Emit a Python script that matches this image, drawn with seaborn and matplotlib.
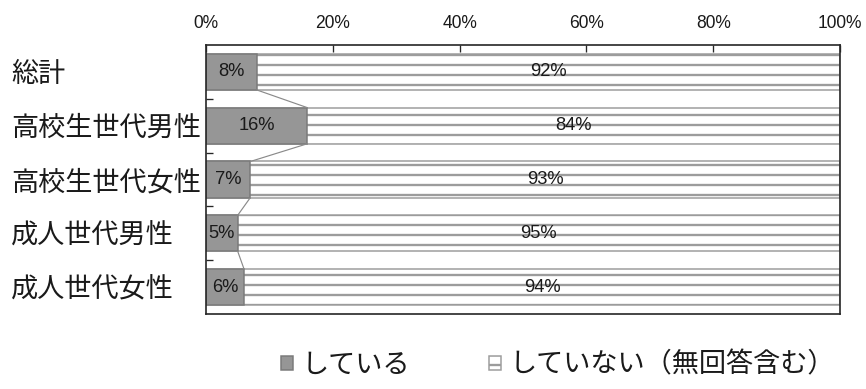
import numpy as np
import pandas as pd
import matplotlib
matplotlib.use('Agg')
import matplotlib.pyplot as plt
import seaborn as sns

# ---- data ----
categories = ['総計', '高校生世代男性', '高校生世代女性', '成人世代男性', '成人世代女性']
doing = [8, 16, 7, 5, 6]
not_doing = [92, 84, 93, 95, 94]
series_names = ['している', 'していない（無回答含む）']
xticks = [0, 20, 40, 60, 80, 100]
xtick_labels = ['0%', '20%', '40%', '60%', '80%', '100%']

sns.set_theme(style='white')
plt.rcParams['font.family'] = ['Noto Sans CJK JP', 'DejaVu Sans']
plt.rcParams['hatch.linewidth'] = 1.4

df = pd.DataFrame({'cat': categories, 'doing': doing, 'not': not_doing})
df['total'] = df['doing'] + df['not']

DPI = 120
fig = plt.figure(figsize=(866 / DPI, 389 / DPI), dpi=DPI)
ax = fig.add_axes([206 / 866, 1 - 314 / 389, (840 - 206) / 866, (314 - 45) / 389])

BAR_W = 0.67
sns.barplot(data=df, y='cat', x='total', orient='h', color='white', width=BAR_W,
            edgecolor='#9c9c9c', linewidth=0.9, hatch='--', saturation=1, ax=ax)
sns.barplot(data=df, y='cat', x='doing', orient='h', color='#969696', width=BAR_W,
            edgecolor='#7a7a7a', linewidth=0.9, saturation=1, ax=ax)

# connector lines between first-segment ends
for i in range(len(categories) - 1):
    ax.plot([doing[i], doing[i + 1]], [i + BAR_W / 2, i + 1 - BAR_W / 2],
            color='#8a8a8a', lw=0.7, zorder=3)

# value labels
num_font = ['Liberation Sans', 'DejaVu Sans']
for i in range(len(categories)):
    ax.text(doing[i] / 2, i, f'{doing[i]}%', ha='center', va='center',
            fontsize=11, family=num_font, color='#1a1a1a', zorder=5)
    ax.text(doing[i] + not_doing[i] / 2, i, f'{not_doing[i]}%', ha='center', va='center',
            fontsize=11, family=num_font, color='#1a1a1a', zorder=5)

ax.set_xlim(0, 100)
ax.set_ylim(len(categories) - 0.5, -0.5)
ax.set_xlabel('')
ax.set_ylabel('')

# x axis on top
ax.xaxis.tick_top()
ax.set_xticks(xticks, xtick_labels)
ax.tick_params(axis='x', which='major', direction='in', length=4, width=0.8,
               color='#262626', pad=8, labelsize=10.5, top=True, bottom=False,
               labelcolor='#1a1a1a')
for lab in ax.get_xticklabels():
    lab.set_family(num_font)

# y axis
ax.set_yticks(range(len(categories)), categories)
ax.tick_params(axis='y', which='major', length=0, pad=117, labelsize=16.3,
               labelcolor='#1a1a1a')
for lab in ax.get_yticklabels():
    lab.set_ha('left')
ax.set_yticks([i + 0.5 for i in range(len(categories) - 1)], minor=True)
ax.tick_params(axis='y', which='minor', direction='in', length=4.2, width=0.8,
               color='#262626', left=True)

for sp in ax.spines.values():
    sp.set_visible(True)
    sp.set_color('#262626')
    sp.set_linewidth(1.0)

handles = [ax.containers[1][0], ax.containers[0][0]]
fig.legend(handles, series_names, loc='center', bbox_to_anchor=(558 / 866, 1 - 365 / 389),
           ncol=2, frameon=False, fontsize=16.3, handlelength=0.45, handleheight=0.45,
           handletextpad=0.3, columnspacing=2.9, labelcolor='#1a1a1a')

fig.savefig('out.png', dpi=DPI)
